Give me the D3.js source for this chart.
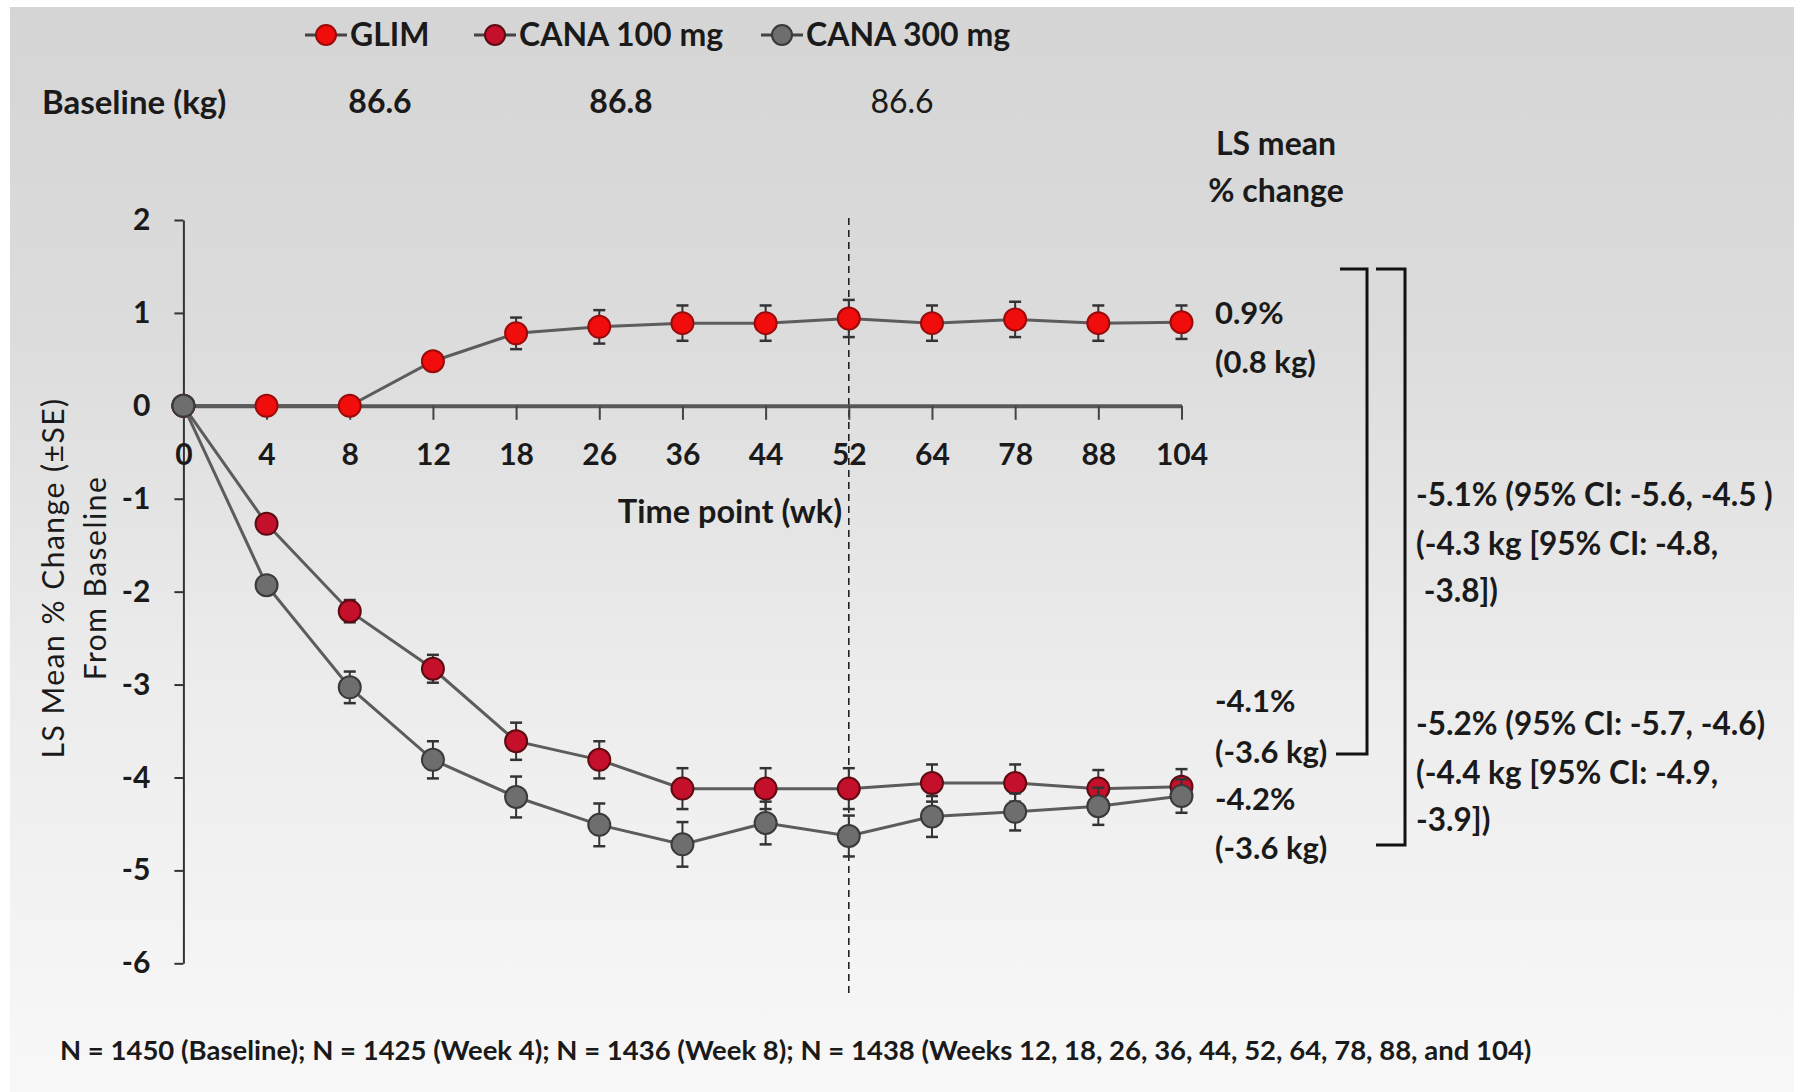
<!DOCTYPE html>
<html>
<head>
<meta charset="utf-8">
<script src="https://cdn.jsdelivr.net/npm/d3@7"></script>
<style>
  html, body { margin: 0; padding: 0; background: #ffffff; }
  svg { display: block; }
  text { font-family: Lato, "Open Sans", sans-serif; fill: #1a1a1a; }
</style>
</head>
<body>
<svg id="chart" width="1797" height="1092"></svg>
<script>
// Study visits (weeks) shown on the x axis
const weeks = ["0", "4", "8", "12", "18", "26", "36", "44", "52", "64", "78", "88", "104"];

// LS mean % change from baseline in body weight, with standard errors
const glim      = [0, 0, 0, 0.48, 0.78, 0.85, 0.89, 0.89, 0.94, 0.89, 0.93, 0.89, 0.9];
const glimSE    = [0, 0, 0, 0.08, 0.17, 0.18, 0.19, 0.19, 0.2, 0.19, 0.19, 0.19, 0.18];
const cana100   = [0, -1.27, -2.21, -2.83, -3.61, -3.81, -4.12, -4.12, -4.12, -4.06, -4.06, -4.12, -4.1];
const cana100SE = [0, 0.08, 0.12, 0.15, 0.2, 0.2, 0.22, 0.22, 0.22, 0.2, 0.2, 0.2, 0.19];
const cana300   = [0, -1.93, -3.03, -3.81, -4.21, -4.51, -4.72, -4.49, -4.63, -4.42, -4.37, -4.31, -4.2];
const cana300SE = [0, 0.08, 0.17, 0.2, 0.22, 0.23, 0.24, 0.23, 0.22, 0.22, 0.2, 0.2, 0.18];

const seriesNames = ["GLIM", "CANA 100 mg", "CANA 300 mg"];
const baselineKg  = ["86.6", "86.8", "86.6"];
const yTicks = [2, 1, 0, -1, -2, -3, -4, -5, -6];

// End-of-study annotations
const endLabels = [
  ["0.9%", "(0.8 kg)"],
  ["-4.1%", "(-3.6 kg)"],
  ["-4.2%", "(-3.6 kg)"]
];
const diffLabels = [
  ["-5.1% (95% CI: -5.6, -4.5 )", "(-4.3 kg [95% CI: -4.8,", " -3.8])"],
  ["-5.2% (95% CI: -5.7, -4.6)", "(-4.4 kg [95% CI: -4.9,", "-3.9])"]
];
const footnote = "N = 1450 (Baseline); N = 1425 (Week 4); N = 1436 (Week 8); N = 1438 (Weeks 12, 18, 26, 36, 44, 52, 64, 78, 88, and 104)";

const styles = [
  { fill: "#f20d0d", stroke: "#9a0a0a" },
  { fill: "#c4102a", stroke: "#5e0a12" },
  { fill: "#6e6e6e", stroke: "#3a3a3a" }
];

const svg = d3.select("#chart");

// soft grey backdrop
const defs = svg.append("defs");
const grad = defs.append("linearGradient").attr("id", "bg").attr("x1", 0).attr("y1", 0).attr("x2", 0).attr("y2", 1);
grad.append("stop").attr("offset", "0").attr("stop-color", "#d5d5d5");
grad.append("stop").attr("offset", "0.3").attr("stop-color", "#dcdcdc");
grad.append("stop").attr("offset", "0.62").attr("stop-color", "#ececec");
grad.append("stop").attr("offset", "1").attr("stop-color", "#f8f8f8");
svg.append("rect").attr("x", 10).attr("y", 7).attr("width", 1784).attr("height", 1085).attr("fill", "url(#bg)");

const x = d3.scalePoint().domain(weeks).range([183.4, 1181.5]);
const y = d3.scaleLinear().domain([-6, 2]).range([963.3, 220]);

// dashed reference at week 52
svg.append("line")
  .attr("x1", x("52")).attr("x2", x("52"))
  .attr("y1", 218).attr("y2", 993)
  .attr("stroke", "#222").attr("stroke-width", 1.6)
  .attr("stroke-dasharray", "7,5");

// y axis
const yAxis = svg.append("g")
  .attr("transform", `translate(${x("0")},0)`)
  .call(d3.axisLeft(y).tickValues(yTicks).tickSize(9).tickSizeOuter(0).tickPadding(24).tickFormat(d3.format("d")));
yAxis.select(".domain").attr("stroke", "#333").attr("stroke-width", 2);
yAxis.selectAll(".tick line").attr("stroke", "#333").attr("stroke-width", 2);
yAxis.selectAll(".tick text")
  .attr("font-family", "Lato, sans-serif").attr("font-size", 30).attr("font-weight", 700).attr("fill", "#1a1a1a")
  .text(d => d < 0 ? "-" + Math.abs(d) : d);

// x axis drawn along zero
const xAxis = svg.append("g")
  .attr("transform", `translate(0,${y(0)})`)
  .call(d3.axisBottom(x).tickSize(14).tickSizeOuter(0));
xAxis.select(".domain").attr("stroke", "#585858").attr("stroke-width", 4);
xAxis.selectAll(".tick line").attr("stroke", "#444").attr("stroke-width", 2);
xAxis.selectAll(".tick text")
  .attr("font-family", "Lato, sans-serif").attr("font-size", 30).attr("font-weight", 700).attr("fill", "#1a1a1a")
  .attr("y", 49).attr("dy", "0.35em");

svg.append("text")
  .attr("x", 730).attr("y", 512).attr("dy", "0.35em")
  .attr("text-anchor", "middle")
  .attr("font-size", 32.5).attr("font-weight", 700)
  .text("Time point (wk)");

// y axis title (two lines)
const yTitle = svg.append("text")
  .attr("transform", "translate(53,578) rotate(-90)")
  .attr("text-anchor", "middle")
  .attr("font-family", "'Open Sans', sans-serif").attr("font-size", 30)
  .attr("letter-spacing", 1.5).attr("fill", "#222");
yTitle.append("tspan").attr("x", 0).attr("dy", "0.35em").text("LS Mean % Change (±SE)");
yTitle.append("tspan").attr("x", 0).attr("dy", "1.42em").text("From Baseline");

// series
const series = [
  { name: seriesNames[0], vals: glim, se: glimSE, st: styles[0] },
  { name: seriesNames[1], vals: cana100, se: cana100SE, st: styles[1] },
  { name: seriesNames[2], vals: cana300, se: cana300SE, st: styles[2] }
];

const line = d3.line().x(d => x(d.w)).y(d => y(d.v));

series.forEach(s => {
  const pts = weeks.map((w, i) => ({ w, v: s.vals[i], se: s.se[i] }));
  const g = svg.append("g");
  g.append("path").datum(pts).attr("d", line)
    .attr("fill", "none").attr("stroke", "#5c5c5c").attr("stroke-width", 3);
  const eb = g.selectAll(".eb").data(pts.filter(p => p.se > 0)).join("g");
  eb.append("line")
    .attr("x1", d => x(d.w)).attr("x2", d => x(d.w))
    .attr("y1", d => y(d.v + d.se)).attr("y2", d => y(d.v - d.se))
    .attr("stroke", "#333").attr("stroke-width", 2);
  [1, -1].forEach(sgn => {
    eb.append("line")
      .attr("x1", d => x(d.w) - 6).attr("x2", d => x(d.w) + 6)
      .attr("y1", d => y(d.v + sgn * d.se)).attr("y2", d => y(d.v + sgn * d.se))
      .attr("stroke", "#333").attr("stroke-width", 2.5);
  });
  g.selectAll("circle").data(pts).join("circle")
    .attr("cx", d => x(d.w)).attr("cy", d => y(d.v)).attr("r", 11)
    .attr("fill", s.st.fill).attr("stroke", s.st.stroke).attr("stroke-width", 2);
});

// legend
const legendX = [326, 495, 782];
series.forEach((s, i) => {
  const g = svg.append("g").attr("transform", `translate(${legendX[i]},35)`);
  g.append("line").attr("x1", -21).attr("x2", 21).attr("stroke", "#444").attr("stroke-width", 3);
  g.append("circle").attr("r", 10).attr("fill", s.st.fill).attr("stroke", s.st.stroke).attr("stroke-width", 2);
  g.append("text").attr("x", 24).attr("dy", "0.35em")
    .attr("font-size", 32).attr("font-weight", 700).text(s.name);
});

// baseline weights row
svg.append("text").attr("x", 42).attr("y", 102).attr("dy", "0.35em")
  .attr("font-size", 33).attr("font-weight", 700).text("Baseline (kg)");
const baseX = [380, 621, 902];
baselineKg.forEach((b, i) => {
  svg.append("text").attr("x", baseX[i]).attr("y", 102).attr("dy", "0.35em")
    .attr("text-anchor", "middle").attr("font-size", 32)
    .attr("font-weight", i === 2 ? 400 : 700)
    .attr("fill", i === 2 ? "#3a3a3a" : "#1a1a1a")
    .text(b);
});

// column header
const hdr = svg.append("text").attr("text-anchor", "middle").attr("font-size", 32).attr("font-weight", 700);
hdr.append("tspan").attr("x", 1276).attr("y", 144).attr("dy", "0.35em").text("LS mean");
hdr.append("tspan").attr("x", 1276).attr("y", 191).attr("dy", "0.35em").text("% change");

// end-of-study values
const endY = [[313, 362], [701, 752], [799, 848]];
endLabels.forEach((lab, i) => {
  lab.forEach((t, j) => {
    svg.append("text").attr("x", 1215).attr("y", endY[i][j]).attr("dy", "0.35em")
      .attr("font-size", 31).attr("font-weight", 700).text(t);
  });
});

// comparison brackets
const bracket = (xTop0, xv, yTop, xBot0, yBot) => {
  svg.append("path")
    .attr("d", `M${xTop0},${yTop}H${xv}V${yBot}H${xBot0}`)
    .attr("fill", "none").attr("stroke", "#111").attr("stroke-width", 3);
};
bracket(1340, 1367, 269, 1336, 754);
bracket(1376, 1405, 269, 1376, 845);

const diffY = [[495, 544, 591], [724, 773, 820]];
diffLabels.forEach((lab, i) => {
  lab.forEach((t, j) => {
    svg.append("text").attr("x", 1416).attr("y", diffY[i][j]).attr("dy", "0.35em")
      .attr("xml:space", "preserve").style("white-space", "pre")
      .attr("font-size", 31.5).attr("font-weight", 700).text(t);
  });
});

// sample sizes
svg.append("text").attr("x", 60).attr("y", 1050).attr("dy", "0.35em")
  .attr("font-size", 27.5).attr("font-weight", 700).text(footnote);
</script>
</body>
</html>
